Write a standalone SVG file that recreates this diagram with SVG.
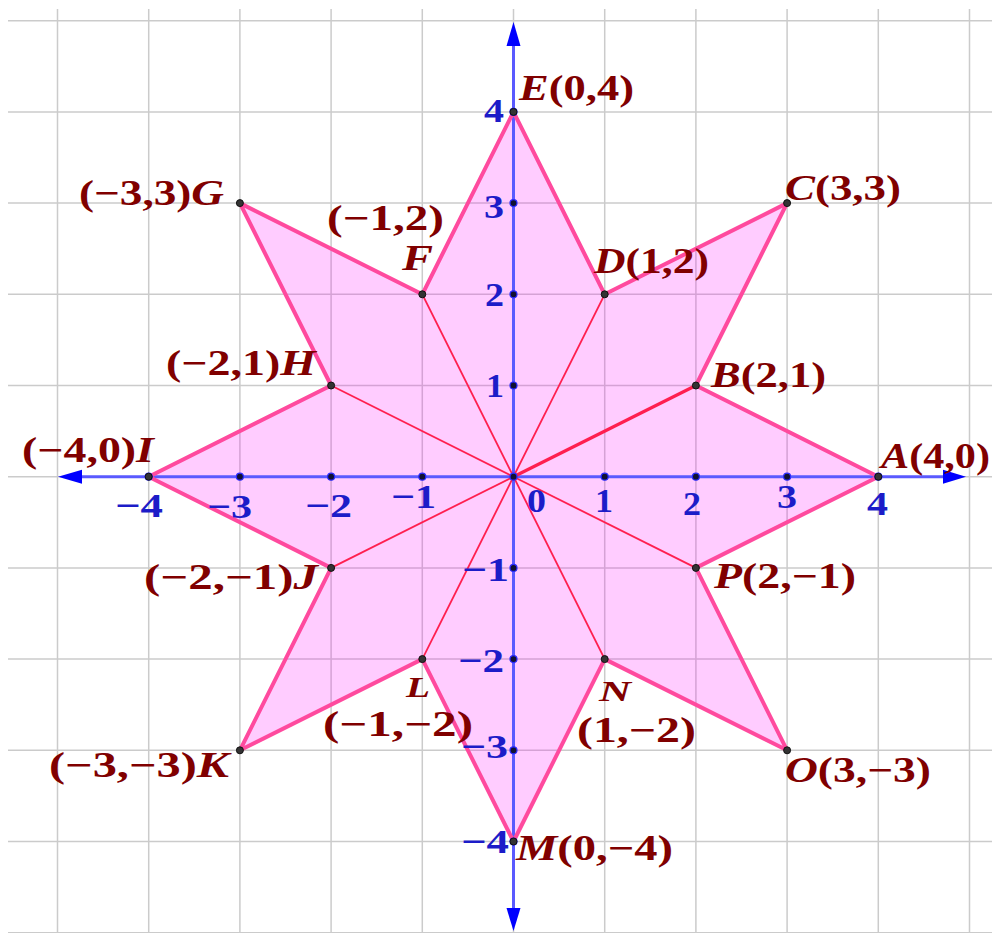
<svg xmlns="http://www.w3.org/2000/svg" width="992" height="933" viewBox="0 0 992 933">
<defs>
<style>
.grid line{stroke:#cbcbcb;stroke-width:1.5}
.axis{stroke:#5a5aff;stroke-width:3}
.arrow{fill:#0000ff}
.tick{fill:#111133;stroke:#2a2aff;stroke-width:1.2}
.pt{fill:#333;stroke:#111;stroke-width:1}
.lbl{font-family:"Liberation Serif","Times New Roman",serif;font-weight:bold;font-size:36px;fill:#800000}
.v{font-style:italic}
.sm{font-size:30px}
.num{font-family:"Liberation Serif","Times New Roman",serif;font-weight:bold;font-size:34px;fill:#1c1cc8}
.ray{stroke:#ff1f4f;stroke-width:1.8}
.ray.thick{stroke-width:3.2}
</style>
</defs>
<rect width="992" height="933" fill="#ffffff"/>
<g class="grid">
<line x1="57.5" y1="9" x2="57.5" y2="933"/>
<line x1="148.7" y1="9" x2="148.7" y2="933"/>
<line x1="239.9" y1="9" x2="239.9" y2="933"/>
<line x1="331.1" y1="9" x2="331.1" y2="933"/>
<line x1="422.3" y1="9" x2="422.3" y2="933"/>
<line x1="513.5" y1="9" x2="513.5" y2="933"/>
<line x1="604.7" y1="9" x2="604.7" y2="933"/>
<line x1="695.9" y1="9" x2="695.9" y2="933"/>
<line x1="787.1" y1="9" x2="787.1" y2="933"/>
<line x1="878.3" y1="9" x2="878.3" y2="933"/>
<line x1="969.5" y1="9" x2="969.5" y2="933"/>
<line x1="8" y1="20.7" x2="992" y2="20.7"/>
<line x1="8" y1="111.9" x2="992" y2="111.9"/>
<line x1="8" y1="203.1" x2="992" y2="203.1"/>
<line x1="8" y1="294.3" x2="992" y2="294.3"/>
<line x1="8" y1="385.5" x2="992" y2="385.5"/>
<line x1="8" y1="476.7" x2="992" y2="476.7"/>
<line x1="8" y1="567.9" x2="992" y2="567.9"/>
<line x1="8" y1="659.1" x2="992" y2="659.1"/>
<line x1="8" y1="750.3" x2="992" y2="750.3"/>
<line x1="8" y1="841.5" x2="992" y2="841.5"/>
<line x1="8" y1="932.7" x2="992" y2="932.7"/>
</g>
<g id="star-fill">
<polygon fill="#ff00ff" fill-opacity="0.2" points="878.3,476.7 695.9,385.5 787.1,203.1 604.7,294.3 513.5,111.9 422.3,294.3 239.9,203.1 331.1,385.5 148.7,476.7 331.1,567.9 239.9,750.3 422.3,659.1 513.5,841.5 604.7,659.1 787.1,750.3 695.9,567.9"/>
</g>
<g id="axes">
<line class="axis" x1="70" y1="476.7" x2="955" y2="476.7"/>
<line class="axis" x1="513.5" y1="34" x2="513.5" y2="920"/>
<polygon class="arrow" points="58,476.7 82,469.7 82,483.7"/>
<polygon class="arrow" points="966,476.7 943,469.7 943,483.7"/>
<polygon class="arrow" points="513.5,22 506.5,46 520.5,46"/>
<polygon class="arrow" points="513.5,931 506.5,908 520.5,908"/>
</g>
<g id="connectors">
<line class="ray thick" x1="513.5" y1="476.7" x2="695.9" y2="385.5"/>
<line class="ray" x1="513.5" y1="476.7" x2="604.7" y2="294.3"/>
<line class="ray" x1="513.5" y1="476.7" x2="422.3" y2="294.3"/>
<line class="ray" x1="513.5" y1="476.7" x2="331.1" y2="385.5"/>
<line class="ray" x1="513.5" y1="476.7" x2="331.1" y2="567.9"/>
<line class="ray" x1="513.5" y1="476.7" x2="422.3" y2="659.1"/>
<line class="ray" x1="513.5" y1="476.7" x2="604.7" y2="659.1"/>
<line class="ray" x1="513.5" y1="476.7" x2="695.9" y2="567.9"/>
</g>
<g id="star-outline">
<polygon fill="none" stroke="#ff4a9e" stroke-width="4" stroke-linejoin="round" points="878.3,476.7 695.9,385.5 787.1,203.1 604.7,294.3 513.5,111.9 422.3,294.3 239.9,203.1 331.1,385.5 148.7,476.7 331.1,567.9 239.9,750.3 422.3,659.1 513.5,841.5 604.7,659.1 787.1,750.3 695.9,567.9"/>
</g>
<g id="ticks">
<circle class="tick" cx="148.7" cy="476.7" r="3.5"/>
<circle class="tick" cx="239.9" cy="476.7" r="3.5"/>
<circle class="tick" cx="331.1" cy="476.7" r="3.5"/>
<circle class="tick" cx="422.3" cy="476.7" r="3.5"/>
<circle class="tick" cx="513.5" cy="476.7" r="3.5"/>
<circle class="tick" cx="604.7" cy="476.7" r="3.5"/>
<circle class="tick" cx="695.9" cy="476.7" r="3.5"/>
<circle class="tick" cx="787.1" cy="476.7" r="3.5"/>
<circle class="tick" cx="878.3" cy="476.7" r="3.5"/>
<circle class="tick" cx="513.5" cy="111.9" r="3.5"/>
<circle class="tick" cx="513.5" cy="203.1" r="3.5"/>
<circle class="tick" cx="513.5" cy="294.3" r="3.5"/>
<circle class="tick" cx="513.5" cy="385.5" r="3.5"/>
<circle class="tick" cx="513.5" cy="567.9" r="3.5"/>
<circle class="tick" cx="513.5" cy="659.1" r="3.5"/>
<circle class="tick" cx="513.5" cy="750.3" r="3.5"/>
<circle class="tick" cx="513.5" cy="841.5" r="3.5"/>
<text class="num" x="115" y="517" textLength="48" lengthAdjust="spacingAndGlyphs">−4</text>
<text class="num" x="207" y="518" textLength="45" lengthAdjust="spacingAndGlyphs">−3</text>
<text class="num" x="305" y="517" textLength="47" lengthAdjust="spacingAndGlyphs">−2</text>
<text class="num" x="391" y="508" textLength="45" lengthAdjust="spacingAndGlyphs">−1</text>
<text class="num" x="527" y="512" textLength="19" lengthAdjust="spacingAndGlyphs">0</text>
<text class="num" x="595" y="512" textLength="18" lengthAdjust="spacingAndGlyphs">1</text>
<text class="num" x="683" y="515" textLength="18" lengthAdjust="spacingAndGlyphs">2</text>
<text class="num" x="777" y="508" textLength="20" lengthAdjust="spacingAndGlyphs">3</text>
<text class="num" x="867" y="515" textLength="21" lengthAdjust="spacingAndGlyphs">4</text>
<text class="num" x="484" y="122" textLength="20" lengthAdjust="spacingAndGlyphs">4</text>
<text class="num" x="484" y="218" textLength="20" lengthAdjust="spacingAndGlyphs">3</text>
<text class="num" x="485" y="306" textLength="19" lengthAdjust="spacingAndGlyphs">2</text>
<text class="num" x="486" y="397" textLength="18" lengthAdjust="spacingAndGlyphs">1</text>
<text class="num" x="462" y="581" textLength="47" lengthAdjust="spacingAndGlyphs">−1</text>
<text class="num" x="458" y="672" textLength="46" lengthAdjust="spacingAndGlyphs">−2</text>
<text class="num" x="461" y="758" textLength="47" lengthAdjust="spacingAndGlyphs">−3</text>
<text class="num" x="461" y="853" textLength="48" lengthAdjust="spacingAndGlyphs">−4</text>
</g>
<g id="A"><circle class="pt" cx="878.3" cy="476.7" r="3.5"/><text class="lbl" x="881" y="468" textLength="109" lengthAdjust="spacingAndGlyphs"><tspan class="v">A</tspan>(4,0)</text></g>
<g id="B"><circle class="pt" cx="695.9" cy="385.5" r="3.5"/><text class="lbl" x="711" y="387" textLength="115" lengthAdjust="spacingAndGlyphs"><tspan class="v">B</tspan>(2,1)</text></g>
<g id="C"><circle class="pt" cx="787.1" cy="203.1" r="3.5"/><text class="lbl" x="785" y="200" textLength="116" lengthAdjust="spacingAndGlyphs"><tspan class="v">C</tspan>(3,3)</text></g>
<g id="D"><circle class="pt" cx="604.7" cy="294.3" r="3.5"/><text class="lbl" x="594" y="273" textLength="115" lengthAdjust="spacingAndGlyphs"><tspan class="v">D</tspan>(1,2)</text></g>
<g id="E"><circle class="pt" cx="513.5" cy="111.9" r="3.5"/><text class="lbl" x="519" y="100" textLength="115" lengthAdjust="spacingAndGlyphs"><tspan class="v">E</tspan>(0,4)</text></g>
<g id="F"><circle class="pt" cx="422.3" cy="294.3" r="3.5"/><text class="lbl" x="327" y="230" textLength="117" lengthAdjust="spacingAndGlyphs">(−1,2)</text><text class="lbl v" x="402" y="270" textLength="31" lengthAdjust="spacingAndGlyphs">F</text></g>
<g id="G"><circle class="pt" cx="239.9" cy="203.1" r="3.5"/><text class="lbl" x="79" y="205" textLength="145" lengthAdjust="spacingAndGlyphs">(−3,3)<tspan class="v">G</tspan></text></g>
<g id="H"><circle class="pt" cx="331.1" cy="385.5" r="3.5"/><text class="lbl" x="166" y="375" textLength="150" lengthAdjust="spacingAndGlyphs">(−2,1)<tspan class="v">H</tspan></text></g>
<g id="I"><circle class="pt" cx="148.7" cy="476.7" r="3.5"/><text class="lbl" x="22" y="462" textLength="132" lengthAdjust="spacingAndGlyphs">(−4,0)<tspan class="v">I</tspan></text></g>
<g id="J"><circle class="pt" cx="331.1" cy="567.9" r="3.5"/><text class="lbl" x="144" y="589" textLength="174" lengthAdjust="spacingAndGlyphs">(−2,−1)<tspan class="v">J</tspan></text></g>
<g id="K"><circle class="pt" cx="239.9" cy="750.3" r="3.5"/><text class="lbl" x="49" y="777" textLength="180" lengthAdjust="spacingAndGlyphs">(−3,−3)<tspan class="v">K</tspan></text></g>
<g id="L"><circle class="pt" cx="422.3" cy="659.1" r="3.5"/><text class="lbl v sm" x="406" y="697" textLength="24" lengthAdjust="spacingAndGlyphs">L</text><text class="lbl" x="323" y="736" textLength="150" lengthAdjust="spacingAndGlyphs">(−1,−2)</text></g>
<g id="M"><circle class="pt" cx="513.5" cy="841.5" r="3.5"/><text class="lbl" x="516" y="860" textLength="157" lengthAdjust="spacingAndGlyphs"><tspan class="v">M</tspan>(0,−4)</text></g>
<g id="N"><circle class="pt" cx="604.7" cy="659.1" r="3.5"/><text class="lbl v sm" x="599" y="701" textLength="32" lengthAdjust="spacingAndGlyphs">N</text><text class="lbl" x="577" y="742" textLength="119" lengthAdjust="spacingAndGlyphs">(1,−2)</text></g>
<g id="O"><circle class="pt" cx="787.1" cy="750.3" r="3.5"/><text class="lbl" x="785" y="782" textLength="146" lengthAdjust="spacingAndGlyphs"><tspan class="v">O</tspan>(3,−3)</text></g>
<g id="P"><circle class="pt" cx="695.9" cy="567.9" r="3.5"/><text class="lbl" x="714" y="588" textLength="142" lengthAdjust="spacingAndGlyphs"><tspan class="v">P</tspan>(2,−1)</text></g>
</svg>
